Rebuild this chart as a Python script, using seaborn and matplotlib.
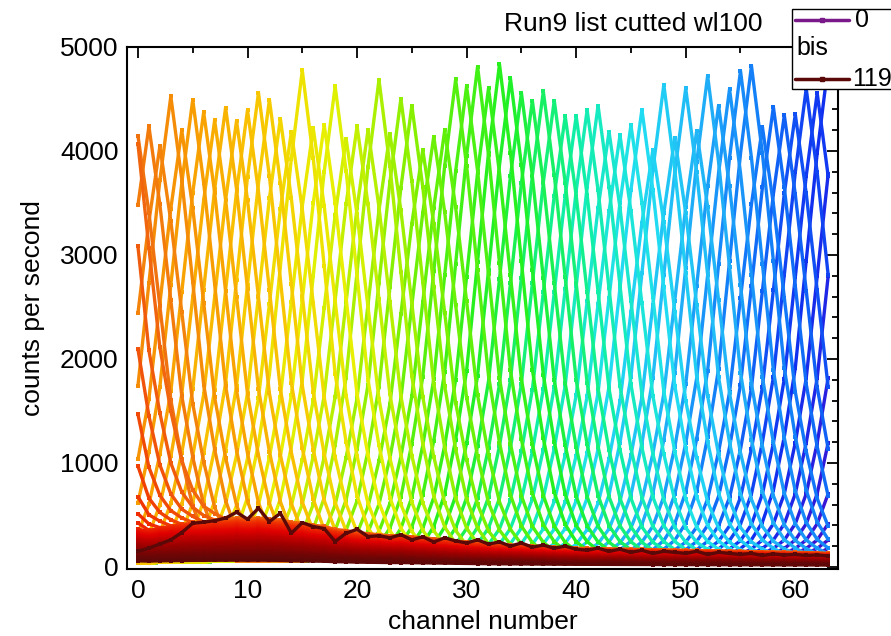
import numpy as np
import pandas as pd
import matplotlib
matplotlib.use("Agg")
import matplotlib.pyplot as plt
import seaborn as sns
from matplotlib.colors import LinearSegmentedColormap
from matplotlib.lines import Line2D
from matplotlib.patches import Rectangle
from matplotlib.ticker import MultipleLocator

# ---------------- data ----------------
channels = list(range(64))
series_ids = list(range(120))

# height of the peak of the series whose maximum lies on each channel 0..63
peak_heights = [4106, 4196, 4000, 4481, 4148, 4442, 4324, 4240, 4362, 4234,
                4337, 4506, 4433, 4250, 4122, 4715, 4154, 4186, 4557, 4048,
                4167, 4128, 4609, 4090, 4426, 4355, 3930, 4058, 4113, 4603,
                4538, 4721, 4513, 4744, 4603, 4465, 4388, 4474, 4385, 4234,
                4234, 4288, 4330, 4080, 4041, 4138, 4288, 3900, 4522, 4010,
                4487, 4077, 4603, 4317, 4474, 4651, 4699, 4106, 4298, 4218,
                4227, 4474, 4433, 4700]
edge_peak_height = 4450          # peaks outside the 0..63 window

# channel of the maximum of series 0..90 (one channel per series step)
peak_channels = list(range(79, -12, -1))

# spot profile: fraction of the peak at distance 0,1,2,... channels
kernel = [1.0, 0.82, 0.60, 0.38, 0.24, 0.13, 0.065, 0.03, 0.012]

# floor of the peaked series per channel
floor_low = [40, 40, 45, 45, 50, 50, 50, 55, 55, 55,
             55, 55, 60, 60, 60, 60, 65, 65, 65, 70,
             70, 70, 75, 75, 75, 80, 80, 80, 85, 85,
             85, 90, 90, 90, 95, 95, 95, 100, 100, 100,
             100, 105, 105, 105, 110, 110, 110, 110, 115, 115,
             115, 115, 120, 120, 120, 120, 120, 125, 125, 125,
             125, 125, 125, 125]

# upper envelope of the red background series per channel
bg_shape = [420, 400, 420, 430, 440, 450, 450, 460, 460, 470,
            460, 470, 460, 450, 430, 420, 400, 390, 360, 350,
            330, 320, 310, 300, 300, 290, 280, 270, 260, 250,
            240, 230, 220, 215, 210, 205, 200, 195, 190, 185,
            180, 178, 176, 174, 172, 170, 168, 166, 164, 162,
            160, 158, 156, 154, 152, 150, 148, 146, 144, 142,
            140, 138, 135, 130]

# relative level of the background series 80..118
bg_levels = [1.00, 0.98, 0.96, 0.95, 0.93, 0.92, 0.90, 0.88, 0.86, 0.85,
             0.83, 0.81, 0.79, 0.77, 0.75, 0.73, 0.71, 0.69, 0.67, 0.65,
             0.63, 0.61, 0.59, 0.56, 0.54, 0.52, 0.50, 0.47, 0.45, 0.42,
             0.40, 0.37, 0.34, 0.31, 0.28, 0.25, 0.22, 0.18, 0.14]

# the last series (119)
last_series = [150, 180, 220, 260, 330, 420, 430, 445, 470, 526,
               459, 564, 436, 516, 324, 426, 388, 369, 244, 324,
               362, 292, 300, 280, 310, 260, 290, 240, 280, 250,
               230, 260, 220, 240, 200, 230, 190, 210, 180, 200,
               170, 160, 180, 150, 170, 140, 160, 130, 150, 140,
               130, 150, 120, 140, 130, 120, 130, 110, 125, 115,
               120, 110, 115, 105]

# ---------------- build long table ----------------
records = []
for s in series_ids:
    for c in channels:
        if s == 119:
            v = last_series[c]
        else:
            if s < 80:
                base = floor_low[c]
            else:
                base = bg_shape[c] * bg_levels[s - 80]
            v = base
            if s < len(peak_channels):
                pc = peak_channels[s]
                h = peak_heights[pc] if 0 <= pc < 64 else edge_peak_height
                d = abs(c - pc)
                if d < len(kernel):
                    v = base + h * kernel[d]
        records.append((s, c, v))
df = pd.DataFrame(records, columns=["series", "channel", "counts"])

# ---------------- colours ----------------
anchors = [(0.00, "#7a1a8a"), (0.08, "#4010d0"), (0.135, "#1030f0"),
           (0.18, "#1070f8"), (0.23, "#20b0f8"), (0.28, "#20e0f0"),
           (0.33, "#10f0a0"), (0.38, "#20f020"), (0.45, "#80f000"),
           (0.52, "#e8f000"), (0.57, "#f8c800"), (0.62, "#f8a000"),
           (0.665, "#f07010"), (0.72, "#f03000"), (0.80, "#e00000"),
           (0.90, "#a00000"), (1.00, "#5a0808")]
cmap = LinearSegmentedColormap.from_list("origin_rainbow", anchors)
palette = {s: cmap(s / 119) for s in series_ids}

# ---------------- figure ----------------
sns.set_style("white")
plt.rcParams["font.family"] = ["Liberation Sans", "DejaVu Sans"]
plt.rcParams["text.color"] = "black"
plt.rcParams["axes.labelcolor"] = "black"

fig = plt.figure(figsize=(8.91, 6.36), dpi=100)
ax = fig.add_axes([127 / 891, 1 - 569 / 636, (838 - 127) / 891, (569 - 47) / 636])

sns.lineplot(data=df, x="channel", y="counts", hue="series", palette=palette,
             estimator=None, sort=False, legend=False, linewidth=2.4,
             marker="s", markersize=3, markeredgewidth=0, ax=ax)

ax.set_xlim(-1.0, 63.9)
ax.set_ylim(-20, 5000)
ax.xaxis.set_major_locator(MultipleLocator(10))
ax.xaxis.set_minor_locator(MultipleLocator(5))
ax.yaxis.set_major_locator(MultipleLocator(1000))
ax.yaxis.set_minor_locator(MultipleLocator(200))
ax.tick_params(which="both", direction="in", top=True, right=True,
               width=1.3, colors="black", labelcolor="black", labelsize=19)
ax.tick_params(axis="x", pad=7)
ax.tick_params(axis="y", pad=6)
ax.tick_params(which="major", length=8)
ax.tick_params(which="minor", length=4)
for sp in ax.spines.values():
    sp.set_visible(True)
    sp.set_linewidth(1.5)
    sp.set_color("black")

ax.set_xlabel("channel number", fontsize=19, labelpad=5, color="black")
ax.set_ylabel("counts per second", fontsize=19, labelpad=11, color="black")

fig.text(762 / 891, 1 - 24 / 636, "Run9 list cutted wl100", ha="right",
         va="center", fontsize=19, color="black")

# legend box (partly outside the figure, as in the reference)
fig.add_artist(Rectangle((792 / 891, 1 - 89 / 636), 110 / 891, 80 / 636,
                         transform=fig.transFigure, facecolor="white",
                         edgecolor="black", linewidth=1.0, zorder=5))
for ypix, sid, lab, xt in [(20, 0, "0", 855), (79, 119, "119", 852)]:
    yy = 1 - ypix / 636
    fig.add_artist(Line2D([795 / 891, 849 / 891], [yy, yy], color=palette[sid],
                          linewidth=2.5, transform=fig.transFigure, zorder=6))
    fig.add_artist(Line2D([822 / 891], [yy], color=palette[sid], marker="s",
                          markersize=3.5, transform=fig.transFigure, zorder=7))
    fig.text(xt / 891, yy, lab, ha="left", va="center", fontsize=18,
             color="black", zorder=7)
fig.text(796 / 891, 1 - 48 / 636, "bis", ha="left", va="center", fontsize=18,
         color="black", zorder=7)

fig.savefig("out.png", dpi=100)
